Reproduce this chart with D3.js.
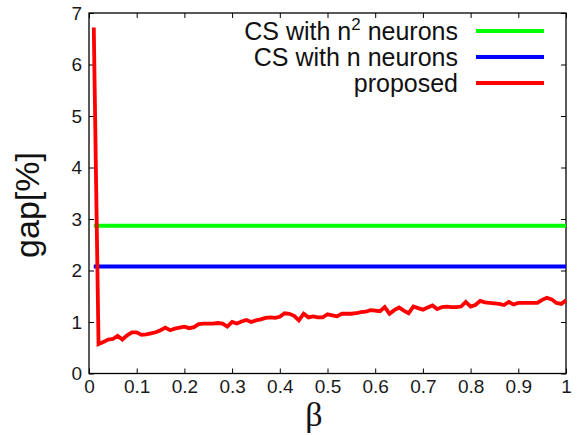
<!DOCTYPE html>
<html>
<head>
<meta charset="utf-8">
<script src="https://cdn.jsdelivr.net/npm/d3@7"></script>
<style>
  html, body { margin: 0; padding: 0; background: #fff; }
  svg { display: block; font-family: "Liberation Sans", Arial, sans-serif; }
</style>
</head>
<body>
<svg id="chart" width="585" height="435"></svg>
<script>
// ---- data ----
const beta = [0.01,0.02,0.03,0.04,0.05,0.06,0.07,0.08,0.09,0.10,
  0.11,0.12,0.13,0.14,0.15,0.16,0.17,0.18,0.19,0.20,
  0.21,0.22,0.23,0.24,0.25,0.26,0.27,0.28,0.29,0.30,
  0.31,0.32,0.33,0.34,0.35,0.36,0.37,0.38,0.39,0.40,
  0.41,0.42,0.43,0.44,0.45,0.46,0.47,0.48,0.49,0.50,
  0.51,0.52,0.53,0.54,0.55,0.56,0.57,0.58,0.59,0.60,
  0.61,0.62,0.63,0.64,0.65,0.66,0.67,0.68,0.69,0.70,
  0.71,0.72,0.73,0.74,0.75,0.76,0.77,0.78,0.79,0.80,
  0.81,0.82,0.83,0.84,0.85,0.86,0.87,0.88,0.89,0.90,
  0.91,0.92,0.93,0.94,0.95,0.96,0.97,0.98,0.99,1.00];
const proposed = [6.72,0.57,0.61,0.66,0.67,0.73,0.66,0.74,0.80,0.80,
  0.75,0.76,0.78,0.80,0.84,0.89,0.84,0.87,0.89,0.91,
  0.88,0.90,0.96,0.97,0.97,0.97,0.98,0.97,0.91,1.00,
  0.97,1.01,1.04,1.00,1.03,1.05,1.08,1.09,1.08,1.10,
  1.17,1.16,1.12,1.03,1.16,1.09,1.11,1.09,1.09,1.15,
  1.13,1.11,1.16,1.16,1.16,1.17,1.19,1.20,1.23,1.22,
  1.21,1.29,1.16,1.23,1.28,1.22,1.17,1.30,1.27,1.24,
  1.28,1.32,1.25,1.29,1.30,1.29,1.29,1.30,1.39,1.30,
  1.33,1.41,1.38,1.37,1.36,1.35,1.33,1.39,1.34,1.37,
  1.37,1.37,1.37,1.37,1.43,1.47,1.44,1.37,1.35,1.42];
const csN2Value = 2.87;   // CS with n^2 neurons
const csNValue = 2.08;    // CS with n neurons
const constRange = [0.01, 1.00];
const xTicks = [0,0.1,0.2,0.3,0.4,0.5,0.6,0.7,0.8,0.9,1];
const xTickLabels = ["0","0.1","0.2","0.3","0.4","0.5","0.6","0.7","0.8","0.9","1"];
const yTicks = [0,1,2,3,4,5,6,7];
const yTickLabels = ["0","1","2","3","4","5","6","7"];
const seriesNames = ["CS with n\u00B2 neurons","CS with n neurons","proposed"];
const seriesColors = ["#00ff00","#0000ff","#ff0000"];

// ---- layout ----
const svg = d3.select("#chart");
const L = 89, R = 566, T = 13, B = 373.5;
const x = d3.scaleLinear().domain([0,1]).range([L,R]);
const y = d3.scaleLinear().domain([0,7]).range([B,T]);

// axes (gnuplot-like: inward ticks on all four sides)
const tickFont = 19;
const gx = svg.append("g").attr("transform",`translate(0,${B})`)
  .call(d3.axisBottom(x).tickValues(xTicks).tickFormat((d,i)=>xTickLabels[i])
    .tickSizeInner(-5).tickSizeOuter(0).tickPadding(6));
const gy = svg.append("g").attr("transform",`translate(${L},0)`)
  .call(d3.axisLeft(y).tickValues(yTicks).tickFormat((d,i)=>yTickLabels[i])
    .tickSizeInner(-5).tickSizeOuter(0).tickPadding(7));
const gt = svg.append("g").attr("transform",`translate(0,${T})`)
  .call(d3.axisTop(x).tickValues(xTicks).tickFormat("").tickSizeInner(-5).tickSizeOuter(0));
const gr = svg.append("g").attr("transform",`translate(${R},0)`)
  .call(d3.axisRight(y).tickValues(yTicks).tickFormat("").tickSizeInner(-5).tickSizeOuter(0));
[gx,gy,gt,gr].forEach(g=>{
  g.select(".domain").remove();
  g.selectAll(".tick line").attr("stroke","#000").attr("stroke-width",1);
  g.selectAll(".tick text").attr("fill","#1a1a1a")
    .style("font-size",tickFont+"px").style("font-family","'Liberation Sans', Arial, sans-serif");
});

// frame
svg.append("rect").attr("x",L).attr("y",T).attr("width",R-L).attr("height",B-T)
  .attr("fill","none").attr("stroke","#000").attr("stroke-width",1.3);

// constant series
const hline = d3.line().x(d=>x(d[0])).y(d=>y(d[1]));
svg.append("path").datum(constRange.map(b=>[b,csN2Value]))
  .attr("d",hline).attr("fill","none").attr("stroke",seriesColors[0]).attr("stroke-width",4);
svg.append("path").datum(constRange.map(b=>[b,csNValue]))
  .attr("d",hline).attr("fill","none").attr("stroke",seriesColors[1]).attr("stroke-width",4);

// proposed
svg.append("path").datum(beta.map((b,i)=>[b,proposed[i]]))
  .attr("d",hline).attr("fill","none").attr("stroke",seriesColors[2])
  .attr("stroke-width",3.8).attr("stroke-linejoin","miter").attr("stroke-miterlimit",2);

// legend
const legX2 = 458, legL1 = 476, legL2 = 544, legY0 = 31, legDy = 26;
const leg = svg.append("g");
seriesNames.forEach((name,i)=>{
  const yy = legY0 + i*legDy;
  const t = leg.append("text").attr("x",legX2).attr("y",yy).attr("dy","0.36em")
    .attr("text-anchor","end").style("font-size","25px").attr("fill","#111");
  if (i===0) {
    t.append("tspan").text("CS with n");
    t.append("tspan").text("2").style("font-size","17px").attr("dy","-0.6em");
    t.append("tspan").text(" neurons").attr("dy","0.42em");
  } else {
    t.text(name);
  }
  leg.append("line").attr("x1",legL1).attr("x2",legL2).attr("y1",yy).attr("y2",yy)
    .attr("stroke",seriesColors[i]).attr("stroke-width",4);
});

// axis labels
svg.append("text").attr("x",314).attr("y",426).attr("text-anchor","middle")
  .style("font-size","34px").style("font-family","'Liberation Serif', 'DejaVu Serif', serif")
  .attr("fill","#111").text("\u03B2");
svg.append("text").attr("transform","translate(39,205) rotate(-90)")
  .attr("text-anchor","middle").style("font-size","34px").attr("fill","#111").text("gap[%]");
</script>
</body>
</html>
